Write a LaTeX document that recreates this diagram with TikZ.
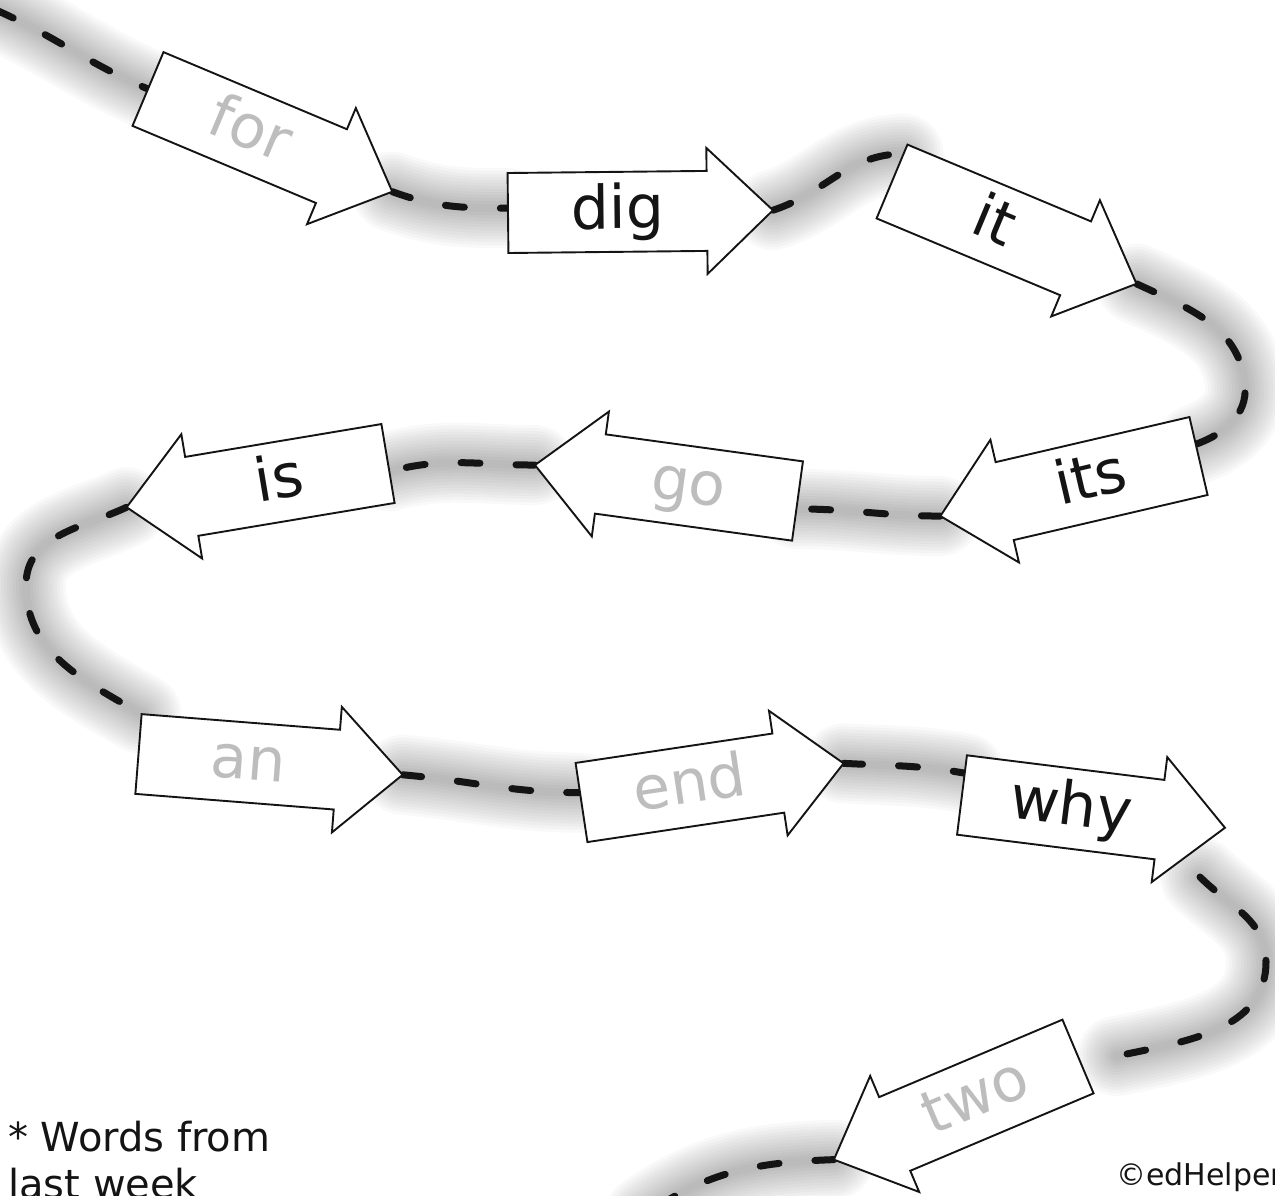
\documentclass[tikz,border=0pt]{standalone}
\usepackage{fontspec}
\newfontfamily\wordfont{DejaVu Sans}
\usetikzlibrary{calc}
\pgfdeclarelayer{background}
\pgfsetlayers{background,main}
\definecolor{wordgray}{HTML}{BDBDBD}
\definecolor{inkblack}{HTML}{141414}
\tikzset{
 arrowbox/.style={draw=inkblack, line width=1.9pt, fill=white, line join=miter, miter limit=10},
 wordtext/.style={font=\wordfont\fontsize{60}{70}\selectfont, inner sep=0pt, text height=37pt, text depth=3.6pt, anchor=center},
 glow/.style={draw=black, draw opacity=0.024, solid, line cap=round, line width=#1},
 trail/.style={preaction={glow=80pt}, preaction={glow=74pt}, preaction={glow=68pt}, preaction={glow=62pt}, preaction={glow=56pt}, preaction={glow=50pt}, preaction={glow=44pt}, preaction={glow=38pt}, preaction={glow=32pt}, preaction={glow=26pt}, preaction={glow=20pt}, preaction={glow=14pt}, preaction={glow=8pt}, draw=inkblack, line width=7pt, line cap=round, dash pattern=on 19pt off 36pt},
 note/.style={font=\wordfont\fontsize{40}{48}\selectfont, inner sep=0pt, anchor=base west, text=inkblack},
 copynote/.style={font=\wordfont\fontsize{30}{36}\selectfont, inner sep=0pt, anchor=base west, text=inkblack},
}
\newcommand\wordarrow[6]{%
 \begin{scope}[shift={#2}, rotate=#3]
  \draw[arrowbox] (0,-40) -- (199,-40) -- (199,-63) -- (265,0) -- (199,63) -- (199,40) -- (0,40) -- cycle;
  \coordinate (#1-tail) at (0,0);
  \coordinate (#1-tip) at (265,0);
  \coordinate (#1-ca) at (0,-40);
  \coordinate (#1-cb) at (0,40);
  \node[wordtext, text=#5, rotate=#4] (#1) at (110,0) {#6};
 \end{scope}}
\begin{document}
\begin{tikzpicture}[x=1pt,y=-1pt]
\useasboundingbox (0,0) rectangle (1275,1195);
\begin{scope}
\clip (0,0) rectangle (1275,1195);
\wordarrow{for}{(148,89)}{-22.8}{-22.8}{wordgray}{for}
\wordarrow{dig}{(508,213)}{0.6}{0.6}{inkblack}{dig}
\wordarrow{it}{(892,181.5)}{-22.7}{-22.7}{inkblack}{it}
\wordarrow{its}{(1198.5,456)}{193.1}{13.1}{inkblack}{its}
\wordarrow{go}{(797.5,501)}{172.2}{-7.8}{wordgray}{go}
\wordarrow{is}{(388,463.5)}{189.5}{9.5}{inkblack}{is}
\wordarrow{an}{(138.5,754)}{-4.5}{-4.5}{wordgray}{an}
\wordarrow{end}{(581.5,802.5)}{8.5}{8.5}{wordgray}{end}
\wordarrow{why}{(962,795)}{-7.1}{-7.1}{inkblack}{why}
\wordarrow{two}{(1078,1056.5)}{202.9}{22.9}{wordgray}{two}
\node[note] (note1) at (8,1151) {* Words from};
\node[note] (note2) at (8,1198) {last week};
\node[copynote] (copy) at (1116,1185) {©edHelper};
\end{scope}
\coordinate (start) at (-4,10);
\coordinate (w1) at (1245,385);
\coordinate (w2) at (26,585);
\coordinate (w3) at (1200,877);
\coordinate (w4) at (1266,962);
\coordinate (w5) at (1117,1056);
\coordinate (w6) at (645,1215);
\begin{pgfonlayer}{background}
\clip (0,0) rectangle (1275,1195);
\draw[trail] (start) to[out=-24,in=157] (for-tail);
\draw[trail] (for-tip) to[out=-20,in=180] ($(dig-tail)!0.12!(dig-ca)$);
\draw[trail] (dig-tip) to[out=18,in=180] ($(it-tail)!0.75!(it-ca)$);
\draw[trail] (it-tip) to[out=-25,in=95] (w1) to[out=-85,in=20] ($(its-tail)!0.3!(its-cb)$);
\draw[trail] (its-tip) to[out=180,in=0] ($(go-tail)!0.2!(go-ca)$);
\draw[trail] (go-tip) to[out=180,in=15] ($(is-tail)!0.2!(is-ca)$);
\draw[trail] (is-tip) to[out=205,in=90] (w2) to[out=-90,in=150] (an-ca);
\draw[trail] (an-tip) to[out=-5,in=180] ($(end-tail)!0.25!(end-ca)$);
\draw[trail] (end-tip) to[out=-3,in=170] ($(why-tail)!0.55!(why-ca)$);
\draw[trail] (w3) to[out=-45,in=90] (w4) to[out=-90,in=12] (w5);
\draw[trail] (two-tip) to[out=182,in=35] (w6);
\end{pgfonlayer}
\end{tikzpicture}
\end{document}
